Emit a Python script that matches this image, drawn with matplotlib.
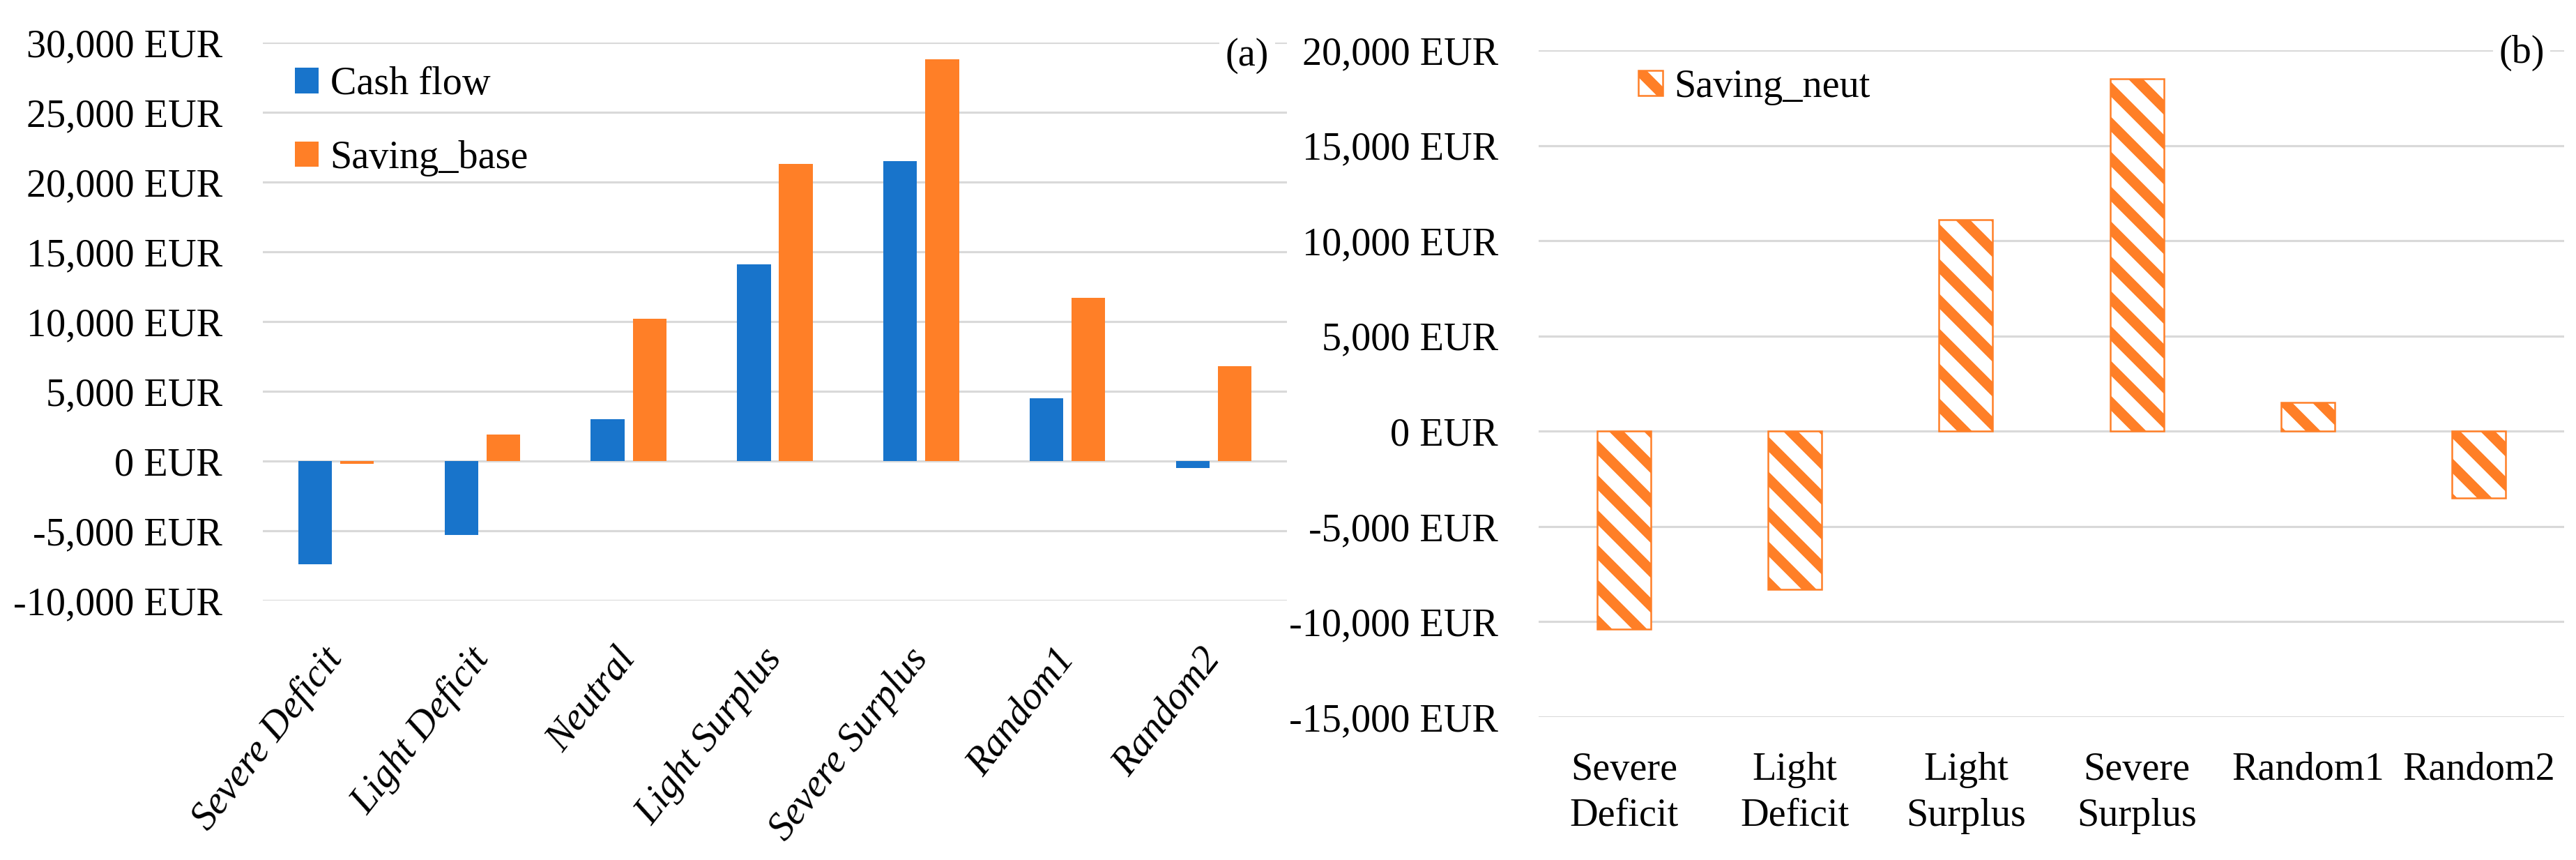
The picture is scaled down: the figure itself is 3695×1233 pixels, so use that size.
import numpy as np
import matplotlib
matplotlib.use("Agg")
import matplotlib.pyplot as plt
from matplotlib.ticker import FuncFormatter, MultipleLocator

# --- data ---
categories_a = ["Severe Deficit", "Light Deficit", "Neutral", "Light Surplus",
                "Severe Surplus", "Random1", "Random2"]
cash_flow = [-7400, -5300, 3000, 14100, 21500, 4500, -500]
saving_base = [-200, 1900, 10200, 21300, 28800, 11700, 6800]

categories_b = ["Severe\nDeficit", "Light\nDeficit", "Light\nSurplus",
                "Severe\nSurplus", "Random1", "Random2"]
saving_neut = [-10400, -8300, 11100, 18500, 1500, -3500]

BLUE = "#1874CB"
ORANGE = "#FF7F27"
GRID = "#D9D9D9"

plt.rcParams["font.family"] = ["Liberation Serif", "DejaVu Serif"]
plt.rcParams["font.size"] = 13.5
plt.rcParams["hatch.linewidth"] = 3.6

W, H, DPI = 3695, 1233, 300
fig = plt.figure(figsize=(W / DPI, H / DPI), dpi=DPI)

def px_axes(x0, x1, ytop, ybot):
    return fig.add_axes([x0 / W, 1 - ybot / H, (x1 - x0) / W, (ybot - ytop) / H])

eur = FuncFormatter(lambda v, p: f"{v:,.0f} EUR")

def style(ax):
    for s in ax.spines.values():
        s.set_visible(False)
    ax.grid(axis="y", color=GRID, lw=0.75)
    ax.set_axisbelow(True)
    ax.yaxis.set_major_locator(MultipleLocator(5000))
    ax.yaxis.set_major_formatter(eur)
    ax.tick_params(axis="both", length=0)
    ax.tick_params(axis="y", pad=14)

# --- (a) ---
ax1 = px_axes(377, 1846, 61, 861)
style(ax1)
ax1.tick_params(axis="x", pad=18)
x = np.arange(len(categories_a))
w = 0.23
ax1.bar(x - 0.143, cash_flow, w, color=BLUE, label="Cash flow")
ax1.bar(x + 0.143, saving_base, w, color=ORANGE, label="Saving_base")
ax1.set_xlim(-0.5, len(categories_a) - 0.5)
ax1.set_ylim(-10000, 30000)
ax1.set_xticks(x)
ax1.set_xticklabels(categories_a, style="italic")
for lab in ax1.get_xticklabels():
    lab.set_rotation(52)
    lab.set_rotation_mode("anchor")
    lab.set_ha("right")
    lab.set_va("center")
ax1.legend(loc="upper left", bbox_to_anchor=(0.031, 0.957), frameon=False,
           borderpad=0, borderaxespad=0, handlelength=0.62, handleheight=0.62,
           handletextpad=0.29, labelspacing=0.95)

# --- (b) ---
ax2 = px_axes(2207, 3678, 72, 1028)
style(ax2)
ax2.tick_params(axis="x", pad=12)
xb = np.arange(len(categories_b))
ax2.bar(xb, saving_neut, 0.314, color="white", edgecolor=ORANGE,
        hatch="\\\\", lw=0.6, label="Saving_neut")
ax2.set_xlim(-0.5, len(categories_b) - 0.5)
ax2.set_ylim(-15000, 20000)
ax2.set_xticks(xb)
ax2.set_xticklabels(categories_b, linespacing=1.35)
ax2.legend(loc="upper left", bbox_to_anchor=(0.097, 0.972), frameon=False,
           borderpad=0, borderaxespad=0, handlelength=0.62, handleheight=0.62,
           handletextpad=0.29)

# panel letters
box = dict(facecolor="white", edgecolor="none", pad=2)
fig.text(1789 / W, 1 - 80 / H, "(a)", ha="center", va="center", bbox=box)
fig.text(3617 / W, 1 - 76 / H, "(b)", ha="center", va="center", bbox=box)

fig.savefig("out.png", dpi=DPI)
